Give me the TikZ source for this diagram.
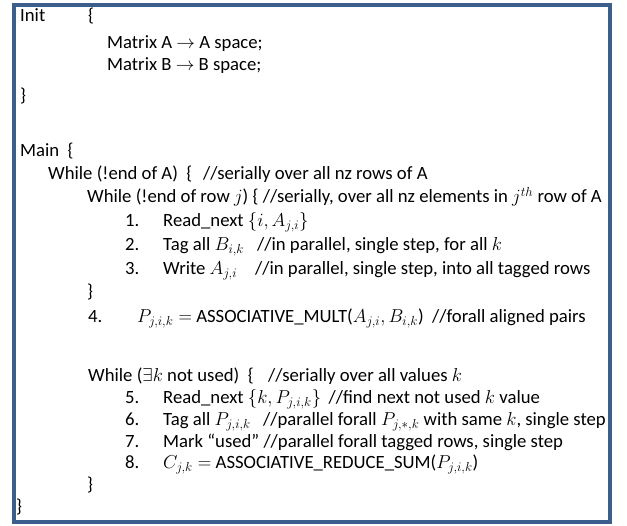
\documentclass[tikz,border=0pt]{standalone}
\usepackage{fix-cm}
\usepackage{fontspec}
\setmainfont{Carlito}
\usepackage{tikz}
\usetikzlibrary{positioning}
\definecolor{bleu}{HTML}{3B5E8C}
\tikzset{
  cadre/.style={draw=bleu,line width=4pt},
  ligne/.style={anchor=base west,inner sep=0pt,font=\fontsize{18.7}{22}\selectfont},
}

\begin{document}
\begin{tikzpicture}[x=1pt,y=-1pt,
  num/.style={ligne}]
  \useasboundingbox (0,0) rectangle (627,526);
  \draw[cadre] (13.5,5) rectangle (610,522);
  \node[ligne] (init) at (20,21.5) {Init};
  \node[ligne] (initouv) at (88,21.5) {\{};
  \node[ligne] (mata) at (107,48.5) {Matrix A $\rightarrow$ A space;};
  \node[ligne] (matb) at (107,70.5) {Matrix B $\rightarrow$ B space;};
  \node[ligne] (initferm) at (20,102) {\}};
  \node[ligne] (main) at (20,157) {Main\ \ \{};
  \node[ligne] (tqa) at (48,180) {While (!end of A)\ \ \{};
  \node[ligne] (coma) at (203,180) {//serially over all nz rows of A};
  \node[ligne] (tqrow) at (87,203) {While (!end of row $j$) \{};
  \node[ligne,xshift=4pt] (comrow) at (tqrow.base east) {//serially, over all nz elements in $j^{th}$ row of A};
  \foreach \n/\y in {1/227,2/251,3/275,5/404,6/426,7/448,8/469}
    \node[num] (n\n) at (125,\y) {\n.};
  \node[ligne] (l1) at (163,227) {Read\_next $\bigl\{i, A_{j,i}\bigr\}$};
  \node[ligne] (l2) at (163,251) {Tag all $B_{i,k}$};
  \node[ligne] (c2) at (257,251) {//in parallel, single step, for all $k$};
  \node[ligne] (l3) at (163,275) {Write $A_{j,i}$};
  \node[ligne] (c3) at (255,275) {//in parallel, single step, into all tagged rows};
  \node[ligne] (fermrow) at (87,298) {\}};
  \node[num] (n4) at (88,323) {4.};
  \node[ligne] (l4) at (137,323) {$P_{j,i,k} =$ ASSOCIATIVE\_MULT($A_{j,i}, B_{i,k}$)\ \ //forall aligned pairs};
  \node[ligne] (tqk) at (88,382) {While ($\exists k$ not used)\ \ \{};
  \node[ligne] (comk) at (268,382) {//serially over all values $k$};
  \node[ligne] (l5) at (163,404) {Read\_next $\bigl\{k, P_{j,i,k}\bigr\}$};
  \node[ligne,xshift=7pt] (c5) at (l5.base east) {//find next not used $k$ value};
  \node[ligne] (l6) at (163,426) {Tag all $P_{j,i,k}$};
  \node[ligne] (c6) at (263,426) {//parallel forall $P_{j,*,k}$ with same $k$, single step};
  \node[ligne] (l7) at (163,448) {Mark “used” //parallel forall tagged rows, single step};
  \node[ligne] (l8) at (163,469) {$C_{j,k} =$ ASSOCIATIVE\_REDUCE\_SUM($P_{j,i,k}$)};
  \node[ligne] (fermk) at (87,491) {\}};
  \node[ligne] (fermmain) at (16,513) {\}};
\end{tikzpicture}
\end{document}
